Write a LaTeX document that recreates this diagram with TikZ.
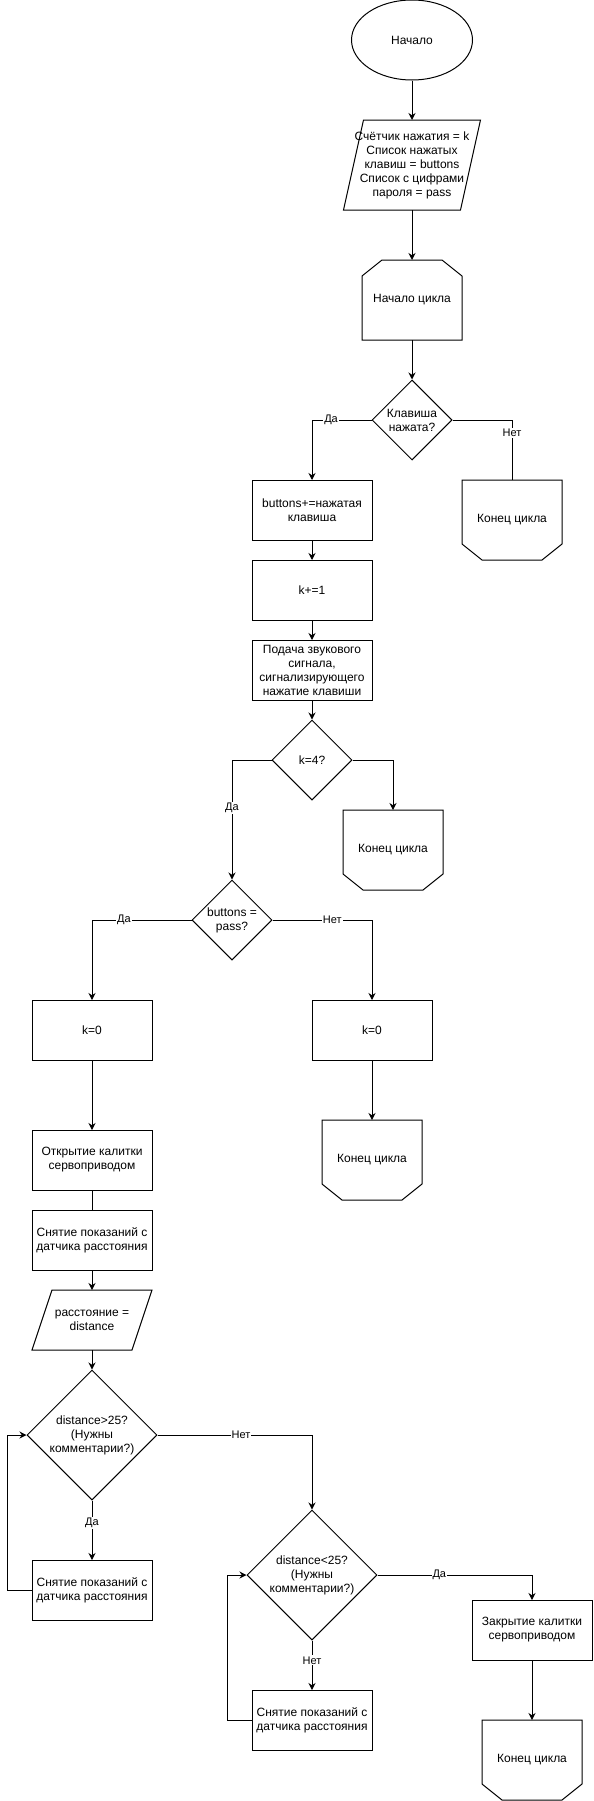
\documentclass[tikz,border=0pt]{standalone}
\usepackage{fontspec}
\setmainfont{Liberation Sans}
\usepackage{tikz}
\usetikzlibrary{arrows.meta, calc, shapes.geometric}

\begin{document}
\begin{tikzpicture}[x=1pt, y=-1pt, line width=1pt,
  font=\fontsize{12}{14}\selectfont,
  box/.style={draw, rectangle, minimum width=120pt, minimum height=60pt, inner sep=0pt, outer sep=0pt, align=center},
  hull/.style={rectangle, minimum width=100pt, minimum height=80pt, inner sep=0pt, outer sep=0pt, align=center},
  slanted/.style={rectangle, inner sep=0pt, outer sep=0pt, align=center},
  choice/.style={draw, diamond, aspect=1, minimum size=80pt, inner sep=0pt, align=center},
  arr/.style={-{Stealth[length=7pt, width=7pt]}},
  lbl/.style={fill=white, inner sep=1pt, font=\fontsize{11}{13}\selectfont}]
  \useasboundingbox (0,0) rectangle (594,1801);
  \node[draw, ellipse, minimum width=121pt, minimum height=80pt, inner sep=0pt] (start) at (412,40) {Начало};
  \node[slanted, minimum width=137pt, minimum height=90pt] (init) at (412,165) {Счётчик нажатия = k\\Список нажатых\\клавиш = buttons\\Список с цифрами\\пароля = pass};
  \node[hull] (loop) at (412,300) {Начало цикла};
  \node[choice] (key) at (412,420) {Клавиша\\нажата?};
  \node[box] (buttons) at (312,510) {buttons+=нажатая\\клавиша};
  \node[hull] (end1) at (512,520) {Конец цикла};
  \node[box] (inc) at (312,590) {k+=1};
  \node[box] (beep) at (312,670) {Подача звукового\\сигнала,\\сигнализирующего\\нажатие клавиши};
  \node[choice] (kfour) at (312,760) {k=4?};
  \node[hull] (end2) at (393,850) {Конец цикла};
  \node[choice] (pass) at (232,920) {buttons =\\pass?};
  \node[box] (zeroL) at (92,1030) {k=0};
  \node[box] (zeroR) at (372,1030) {k=0};
  \node[hull] (end3) at (372,1160) {Конец цикла};
  \node[box] (open) at (92,1160) {Открытие калитки\\сервоприводом};
  \node[box] (read1) at (92,1240) {Снятие показаний с\\датчика расстояния};
  \node[slanted, minimum width=120pt, minimum height=60pt] (dist) at (92,1320) {расстояние =\\distance};
  \node[choice, minimum size=130pt] (far) at (92,1435) {distance>25?\\(Нужны\\комментарии?)};
  \node[box] (read2) at (92,1590) {Снятие показаний с\\датчика расстояния};
  \node[choice, minimum size=130pt] (near) at (312,1575) {distance<25?\\(Нужны\\комментарии?)};
  \node[box] (read3) at (312,1720) {Снятие показаний с\\датчика расстояния};
  \node[box] (close) at (532,1630) {Закрытие калитки\\сервоприводом};
  \node[hull] (end4) at (532,1760) {Конец цикла};
  \draw (loop.south west) -- ($(loop.north west)+(0,16)$) -- ($(loop.north west)+(20,0)$) -- ($(loop.north east)+(-20,0)$) -- ($(loop.north east)+(0,16)$) -- (loop.south east) -- cycle;
  \foreach \n in {end1,end2,end3,end4} {
    \draw (\n.north west) -- ($(\n.south west)+(0,-16)$) -- ($(\n.south west)+(20,0)$) -- ($(\n.south east)+(-20,0)$) -- ($(\n.south east)+(0,-16)$) -- (\n.north east) -- cycle;
  }
  \foreach \n in {init,dist} {
    \draw ($(\n.north west)+(20,0)$) -- (\n.north east) -- ($(\n.south east)+(-20,0)$) -- (\n.south west) -- cycle;
  }
  \draw[arr] (start) -- (init);
  \draw[arr] (init) -- (loop);
  \draw[arr] (loop) -- (key);
  \draw[arr] (key.west) -| node[lbl, pos=0.34] {Да} (buttons.north);
  \draw (key.east) -| node[lbl, pos=0.61] {Нет} (end1.north);
  \draw[arr] (buttons) -- (inc);
  \draw[arr] (inc) -- (beep);
  \draw[arr] (beep) -- (kfour);
  \draw[arr] (kfour.east) -| (end2.north);
  \draw[arr] (kfour.west) -| node[lbl, pos=0.7] {Да} (pass.north);
  \draw[arr] (pass.west) -| node[lbl, pos=0.34] {Да} (zeroL.north);
  \draw[arr] (pass.east) -| node[lbl, pos=0.3] {Нет} (zeroR.north);
  \draw[arr] (zeroR) -- (end3);
  \draw[arr] (zeroL) -- (open);
  \draw (open) -- (read1);
  \draw[arr] (read1) -- (dist);
  \draw[arr] (dist) -- (far);
  \draw[arr] (far) -- node[lbl, pos=0.38] {Да} (read2);
  \draw[arr] (read2.west) -- ++(-25,0) |- (far.west);
  \draw[arr] (far.east) -| node[lbl, pos=0.27] {Нет} (near.north);
  \draw[arr] (near) -- node[lbl, pos=0.4] {Нет} (read3);
  \draw[arr] (read3.west) -- ++(-25,0) |- (near.west);
  \draw[arr] (near.east) -| node[lbl, pos=0.2] {Да} (close.north);
  \draw[arr] (close) -- (end4);
\end{tikzpicture}
\end{document}
